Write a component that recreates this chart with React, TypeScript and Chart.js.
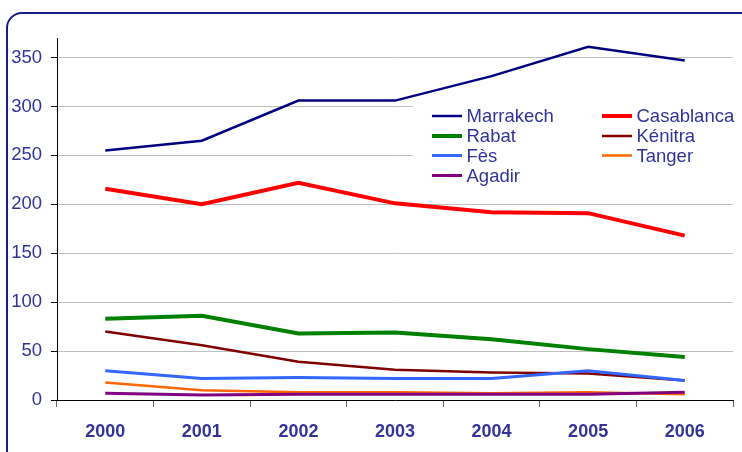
import React, { useEffect, useRef } from "react";
import { Chart, registerables } from "chart.js";

Chart.register(...registerables);

const years = ["2000", "2001", "2002", "2003", "2004", "2005", "2006"];
const marrakech = [255, 265, 306, 306, 331, 361, 347];
const casablanca = [216, 200, 222, 201, 192, 191, 168];
const rabat = [83, 86, 68, 69, 62, 52, 44];
const kenitra = [70, 56, 39, 31, 28, 27, 20];
const fes = [30, 22, 23, 22, 22, 30, 20];
const tanger = [18, 10, 8, 8, 7, 8, 6];
const agadir = [7, 5, 6, 6, 6, 6, 8];

const seriesNames = ["Marrakech", "Casablanca", "Rabat", "Kénitra", "Fès", "Tanger", "Agadir"];
const seriesValues = [marrakech, casablanca, rabat, kenitra, fes, tanger, agadir];
const seriesColors = ["#000080", "#ff0000", "#008000", "#800000", "#3366ff", "#ff6600", "#800080"];
const seriesWidths = [2.5, 4, 4, 2.5, 3, 2.5, 3];

const FONT = "'Liberation Sans', Arial, sans-serif";
const TEXT_COLOR = "#333399";

const legendPlugin = {
  id: "insideLegend",
  afterDraw(chart: any) {
    const ctx = chart.ctx;
    ctx.save();
    ctx.fillStyle = "#ffffff";
    ctx.fillRect(413, 103, 322, 85);
    const colX = [432, 602];
    const rowY = [116, 136, 155.5, 175.5];
    chart.data.datasets.forEach((ds: any, i: number) => {
      const col = i % 2;
      const row = Math.floor(i / 2);
      const x = colX[col];
      const y = rowY[row];
      ctx.strokeStyle = ds.borderColor;
      ctx.lineWidth = ds.borderWidth;
      ctx.beginPath();
      ctx.moveTo(x, y);
      ctx.lineTo(x + 30, y);
      ctx.stroke();
      ctx.fillStyle = TEXT_COLOR;
      ctx.font = `18.5px ${FONT}`;
      ctx.textBaseline = "middle";
      ctx.textAlign = "left";
      ctx.fillText(ds.label, x + 34.5, y + 1);
    });
    ctx.restore();
  },
};

export default function App() {
  const canvasRef = useRef<HTMLCanvasElement>(null);

  useEffect(() => {
    const canvas = canvasRef.current;
    if (!canvas) return;
    const chart = new Chart(canvas, {
      type: "line",
      data: {
        labels: years,
        datasets: seriesNames.map((name, i) => ({
          label: name,
          data: seriesValues[i],
          borderColor: seriesColors[i],
          backgroundColor: seriesColors[i],
          borderWidth: seriesWidths[i],
          pointRadius: 0,
          tension: 0,
          fill: false,
          order: seriesNames.length - i,
        })),
      },
      options: {
        responsive: false,
        animation: false,
        devicePixelRatio: 1,
        layout: { padding: { left: 0, right: 9, top: 38, bottom: 0 } },
        plugins: {
          legend: { display: false },
          tooltip: { enabled: false },
        },
        scales: {
          x: {
            type: "category",
            offset: true,
            grid: {
              offset: true,
              drawOnChartArea: false,
              tickLength: 7,
              tickColor: "#666666",
            },
            border: { color: "#000000", width: 1 },
            ticks: {
              color: TEXT_COLOR,
              font: { family: FONT, size: 18, weight: "bold" },
              padding: 14,
              maxRotation: 0,
            },
            afterFit: (s: any) => {
              s.height = 52;
            },
          },
          y: {
            min: 0,
            max: 370,
            grid: {
              color: (c: any) => (c.tick && c.tick.value === 0 ? "rgba(0,0,0,0)" : "#c0c0c0"),
              tickLength: 6,
              tickColor: "#000000",
            },
            border: { color: "#000000", width: 1 },
            ticks: {
              stepSize: 50,
              includeBounds: false,
              color: TEXT_COLOR,
              font: { family: FONT, size: 18.5 },
              padding: 9,
            },
            afterFit: (s: any) => {
              s.width = 57;
            },
          },
        },
      },
      plugins: [legendPlugin],
    });
    return () => chart.destroy();
  }, []);

  return (
    <div
      style={{
        position: "absolute",
        left: 0,
        top: 0,
        width: 742,
        height: 452,
        overflow: "hidden",
        background: "#ffffff",
      }}
    >
      <canvas
        ref={canvasRef}
        width={742}
        height={452}
        style={{ position: "absolute", left: 0, top: 0, width: 742, height: 452, display: "block" }}
      />
      <div
        style={{
          position: "absolute",
          left: 6,
          top: 12,
          width: 780,
          height: 480,
          border: "2px solid #1a1a8e",
          borderRadius: 16,
          boxSizing: "border-box",
          pointerEvents: "none",
        }}
      />
    </div>
  );
}
